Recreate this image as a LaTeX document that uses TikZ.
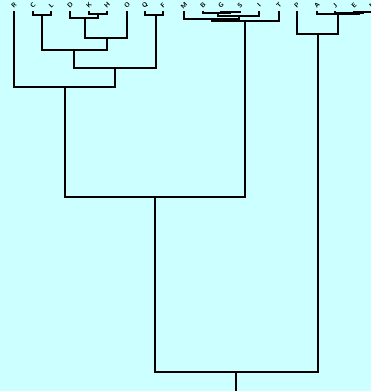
\documentclass[tikz,border=0pt]{standalone}
\usetikzlibrary{calc}
\definecolor{bgcyan}{HTML}{CCFFFF}
\begin{document}
\begin{tikzpicture}[x=1pt,y=-1pt,
  link/.style={draw=black,line width=1.6pt,line join=miter},
  leaflabel/.style={font=\fontsize{6.5}{7}\selectfont\sffamily\bfseries,rotate=45,inner sep=0pt}]
\fill[bgcyan] (0,0) rectangle (371,391);
\useasboundingbox (0,0) rectangle (371,391);
\clip (0,0) rectangle (371,391);
\foreach \n/\x in {R/14,C/33,L/51,D/70,K/89,H/107,O/127,Q/145,F/163,M/184,B/203,G/221,S/240,I/259,T/279,P/297,A/317,J/335,E/354,N/372}{
  \node[leaflabel] (t\n) at (\x,5.5) {\n};
  \coordinate (l\n) at (\x,11);
}
% left cluster
\coordinate (mCL) at (42,15);
\draw[link] (lC) |- (mCL) -| (lL);
\coordinate (mKH) at (98,14);
\draw[link] (lK) |- (mKH) -| (lH);
\coordinate (mDKH) at (85,18);
\draw[link] (lD) |- (mDKH) -| (mKH);
\coordinate (mDKHO) at (107,38);
\draw[link] (mDKH) |- (mDKHO) -| (lO);
\coordinate (mCD) at (74,50);
\draw[link] (mCL) |- (mCD) -| (mDKHO);
\coordinate (mQF) at (156,15);
\draw[link] (lQ) |- (mQF) -| (lF);
\coordinate (mCQ) at (115,68);
\draw[link] (mCD) |- (mCQ) -| (mQF);
\coordinate (mR) at (65,87);
\draw[link] (lR) |- (mR) -| (mCQ);
% middle cluster
\coordinate (mGS) at (230,12);
\draw[link] (lG) |- (mGS) -| (lS);
\coordinate (mBGS) at (218,13);
\draw[link] (lB) |- (mBGS) -| (mGS);
\coordinate (mBGSI) at (239,16);
\draw[link] (mBGS) |- (mBGSI) -| (lI);
\coordinate (mM) at (212,19);
\draw[link] (lM) |- (mM) -| (mBGSI);
\coordinate (mT) at (245,21);
\draw[link] (mM) |- (mT) -| (lT);
% right cluster
\coordinate (mEN) at (363,12);
\draw[link] (lE) |- (mEN) -| (lN);
\coordinate (mJ) at (359,13);
\draw[link] (lJ) |- (mJ) -| (mEN);
\coordinate (mA) at (338,14);
\draw[link] (lA) |- (mA) -| (mJ);
\coordinate (mP) at (318,34);
\draw[link] (lP) |- (mP) -| (mA);
% upper joins
\coordinate (mMain) at (155,197);
\draw[link] (mR) |- (mMain) -| (mT);
\coordinate (root) at (236,372);
\draw[link] (mMain) |- (root) -| (mP);
\coordinate (stem) at (236,391);
\draw[link] (root) -- (stem);
\end{tikzpicture}
\end{document}
